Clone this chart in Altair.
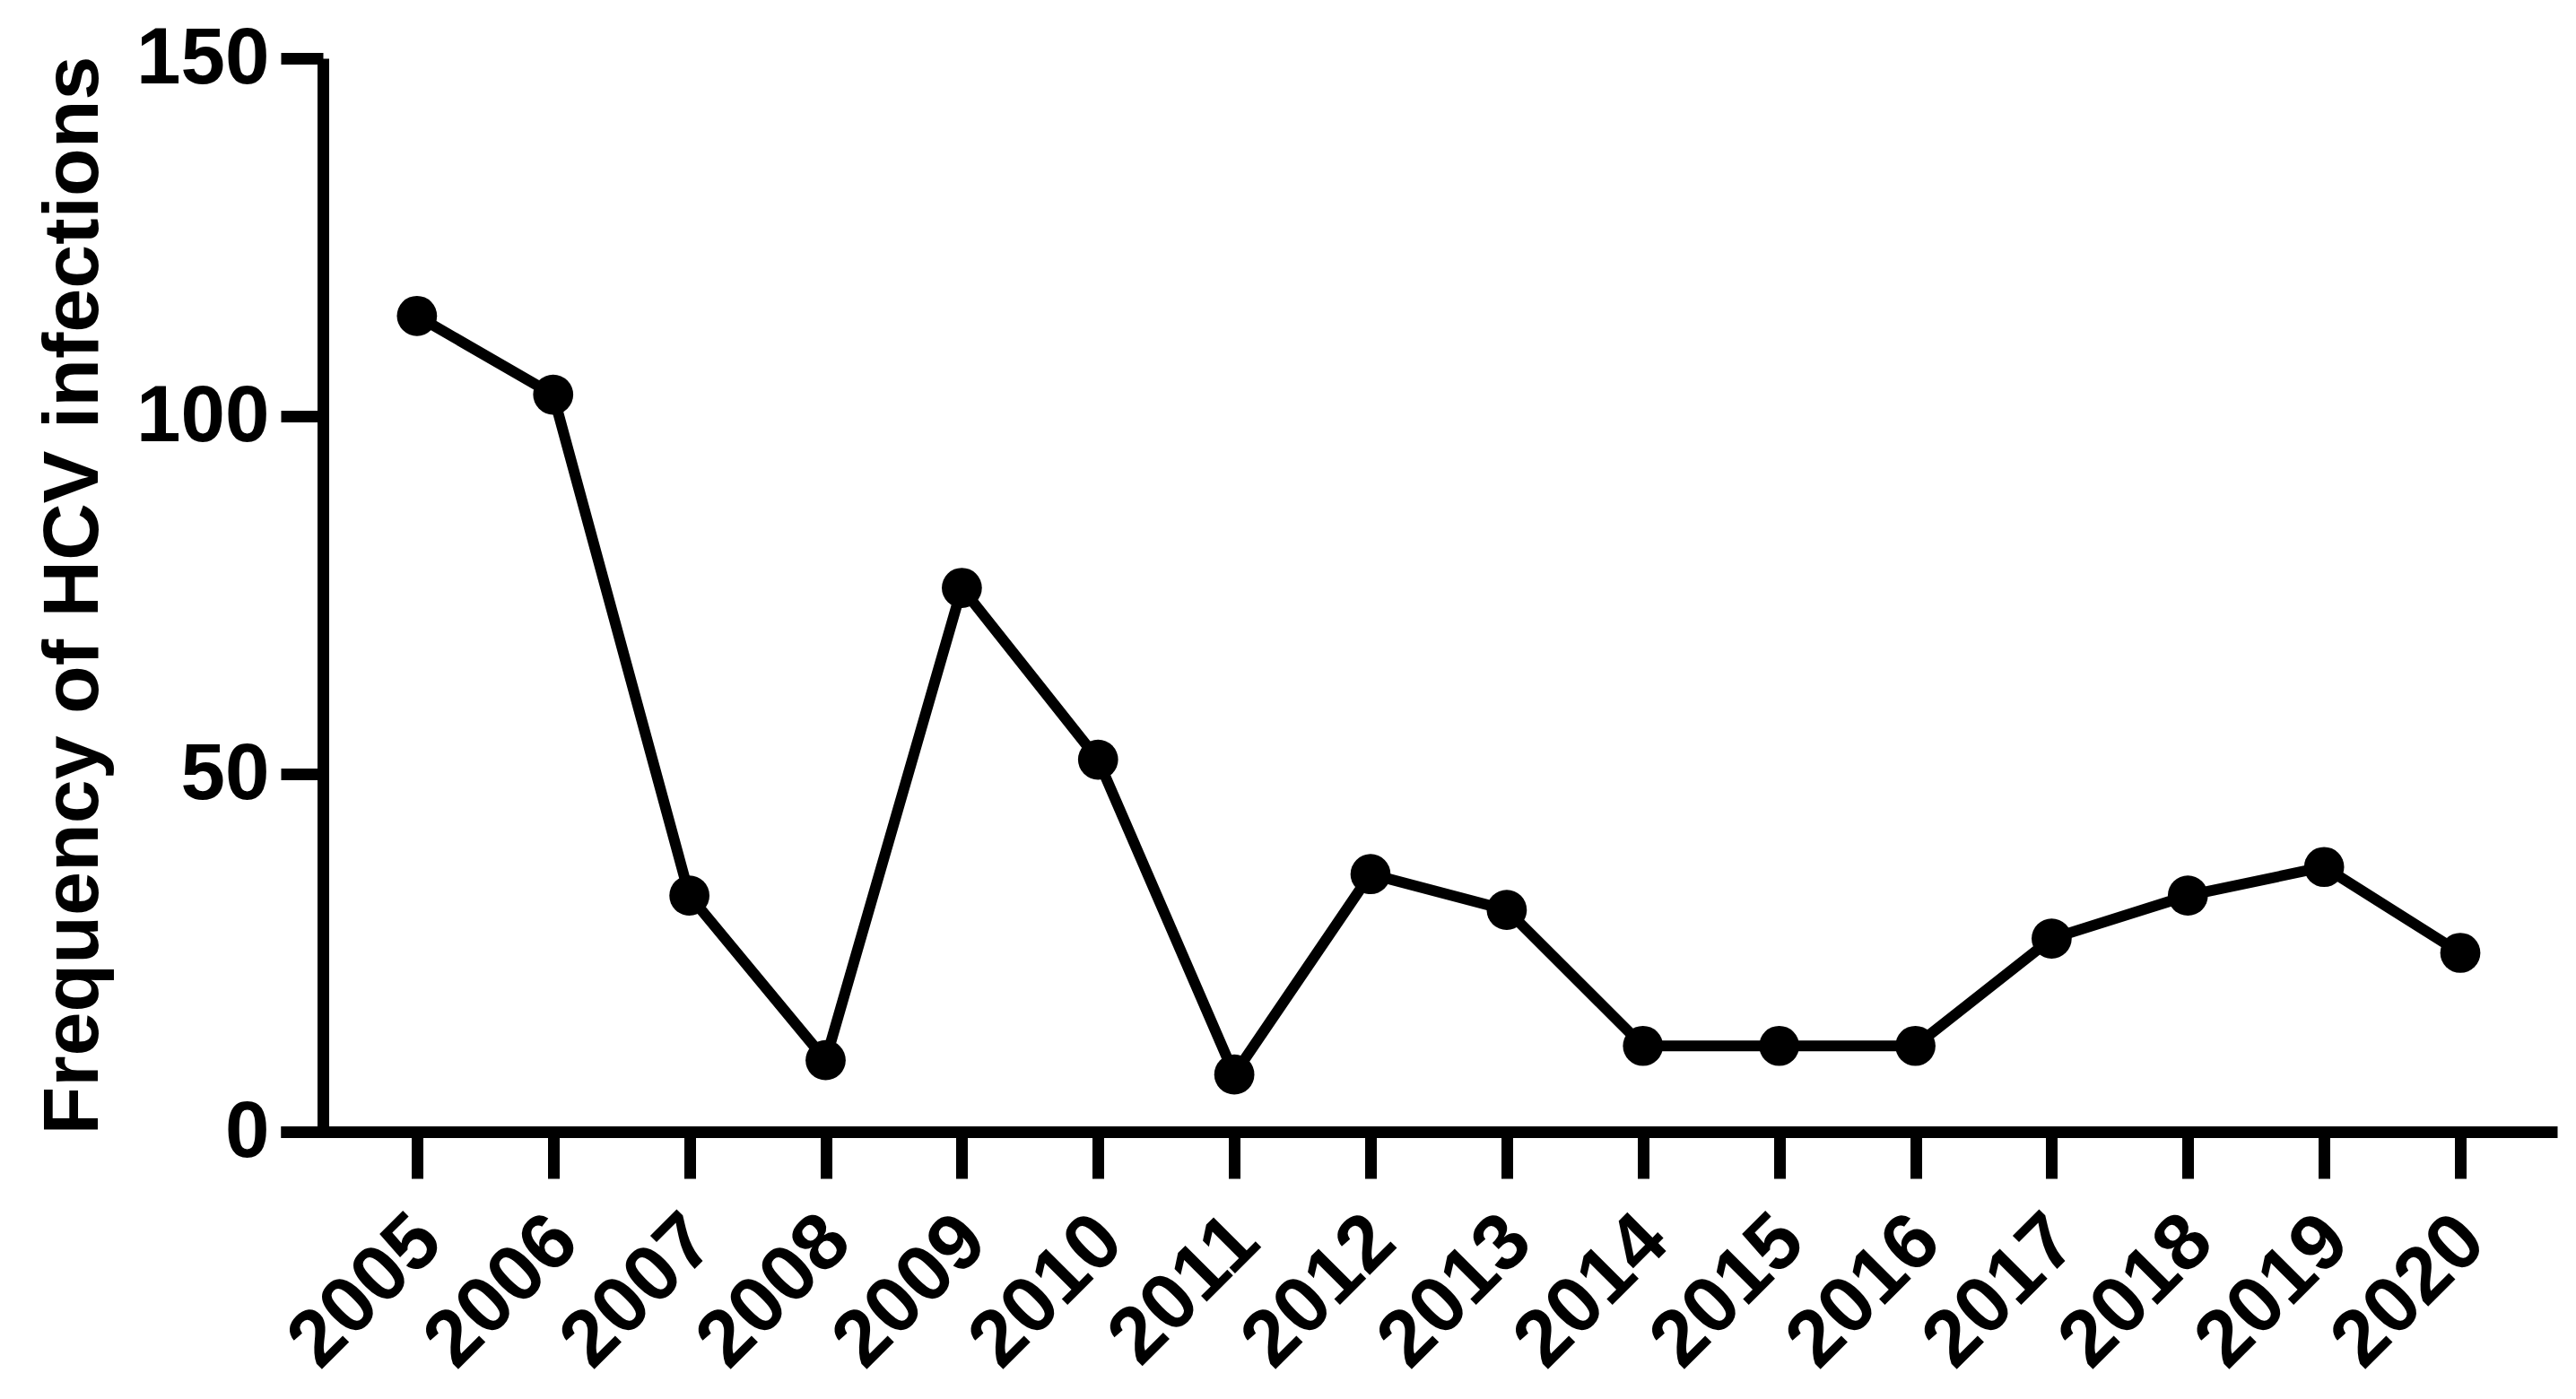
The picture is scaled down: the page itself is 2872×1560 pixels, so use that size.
import altair as alt
import pandas as pd

years = [2005, 2006, 2007, 2008, 2009, 2010, 2011, 2012,
         2013, 2014, 2015, 2016, 2017, 2018, 2019, 2020]
frequency = [114, 103, 33, 10, 76, 52, 8, 36, 31, 12, 12, 12, 27, 33, 37, 25]
y_ticks = [0, 50, 100, 150]
y_title = "Frequency of HCV infections"

df = pd.DataFrame({"year": years, "freq": frequency})

FONT = "Liberation Sans"

x_enc = alt.X(
    "year:Q",
    scale=alt.Scale(domain=[2004.0, 2020.711], nice=False, zero=False),
    axis=alt.Axis(
        values=years, format="d", labelAngle=-45, labelAlign="right",
        labelBaseline="top", labelPadding=25, labelOffset=-18,
        tickSize=52, tickWidth=13, domainWidth=13, domainColor="black",
        tickColor="black", labelColor="black", labelFont=FONT,
        labelFontSize=89, labelFontWeight="bold", grid=False, title=None,
        labelOverlap=False, labelLimit=0,
    ),
)
y_enc = alt.Y(
    "freq:Q",
    scale=alt.Scale(domain=[0, 150], nice=False),
    axis=alt.Axis(
        values=y_ticks, offset=-47, tickSize=47, tickWidth=13, domainWidth=13,
        domainColor="black", tickColor="black", labelColor="black",
        labelFont=FONT, labelFontSize=89, labelFontWeight="bold",
        labelPadding=13, grid=False, title=y_title, titleFont=FONT,
        titleFontSize=88, titleFontWeight="bold", titleColor="black",
        titlePadding=34, labelLimit=0,
    ),
)

base = alt.Chart(df).encode(x=x_enc, y=y_enc)
line = base.mark_line(color="black", strokeWidth=12)
dots = base.mark_circle(color="black", opacity=1, size=2000)

chart = (
    alt.layer(line, dots)
    .properties(
        width=2538, height=1197,
        autosize=alt.AutoSizeParams(type="none"),
        padding={"left": 305, "top": 57, "right": 13, "bottom": 290},
        background="white",
    )
    .configure_view(strokeWidth=0)
)

chart.save("out.html", embed_options={"renderer": "svg", "actions": False})
